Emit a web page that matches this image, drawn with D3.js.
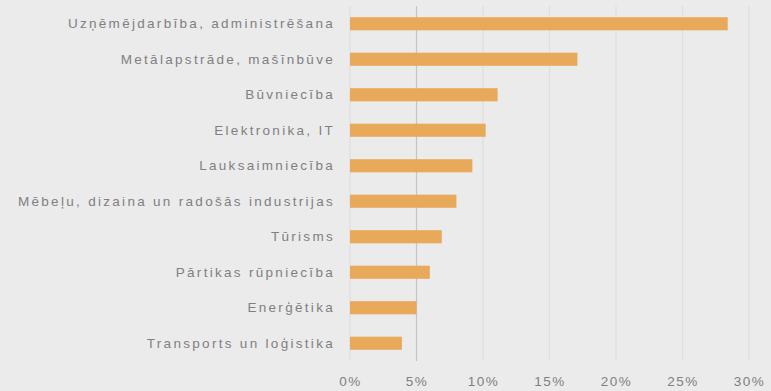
<!DOCTYPE html>
<html>
<head>
<meta charset="utf-8">
<script src="https://cdn.jsdelivr.net/npm/d3@7"></script>
<style>
  html, body { margin: 0; padding: 0; background: #ebebeb; }
  svg { display: block; font-family: "Open Sans", "DejaVu Sans", sans-serif; }
</style>
</head>
<body>
<svg id="chart" width="771" height="391"></svg>
<script>
// Nozares un to īpatsvars (%)
const categories = [
  "Uzņēmējdarbība, administrēšana",
  "Metālapstrāde, mašīnbūve",
  "Būvniecība",
  "Elektronika, IT",
  "Lauksaimniecība",
  "Mēbeļu, dizaina un radošās industrijas",
  "Tūrisms",
  "Pārtikas rūpniecība",
  "Enerģētika",
  "Transports un loģistika"
];
const values = [28.4, 17.1, 11.1, 10.2, 9.2, 8.0, 6.9, 6.0, 5.0, 3.9];
const xTicks = [0, 5, 10, 15, 20, 25, 30];
const xTickLabels = ["0%", "5%", "10%", "15%", "20%", "25%", "30%"];

const svg = d3.select("#chart");
const W = 771, H = 391;
const mLeft = 350, mRight = 749, mTop = 6, mBottom = 361;

svg.append("rect").attr("width", W).attr("height", H).attr("fill", "#ebebeb");

const x = d3.scaleLinear().domain([0, 30]).range([mLeft, mRight]);
const y = d3.scaleBand().domain(categories).range([mTop, mBottom]).paddingInner(0.63).paddingOuter(0.315);

// vertikālās režģa līnijas
svg.append("g").selectAll("line").data(xTicks).join("line")
  .attr("x1", d => x(d)).attr("x2", d => x(d))
  .attr("y1", mTop).attr("y2", mBottom)
  .attr("stroke", d => d === 5 ? "#c4c4c4" : "#dedede")
  .attr("stroke-width", 1.2);

// stabiņi
svg.append("g").selectAll("rect").data(values).join("rect")
  .attr("x", x(0))
  .attr("y", (d, i) => y(categories[i]))
  .attr("width", d => x(d) - x(0))
  .attr("height", y.bandwidth())
  .attr("fill", "#e9a95b");

// kategoriju nosaukumi
const yAxis = d3.axisLeft(y).tickSize(0).tickPadding(15);
const gy = svg.append("g").attr("transform", `translate(${mLeft},0)`).call(yAxis);
gy.select(".domain").remove();
gy.selectAll("text")
  .attr("fill", "#808080")
  .style("font-size", "13.5px")
  .style("letter-spacing", "2.3px");

// x ass
const xAxis = d3.axisBottom(x).tickValues(xTicks).tickFormat((d, i) => xTickLabels[i]).tickSize(0).tickPadding(0);
const gx = svg.append("g").attr("transform", `translate(0,${mBottom + 15})`).call(xAxis);
gx.select(".domain").remove();
gx.selectAll("text")
  .attr("fill", "#808080")
  .style("font-size", "13.5px")
  .style("letter-spacing", "1.5px");
</script>
</body>
</html>
